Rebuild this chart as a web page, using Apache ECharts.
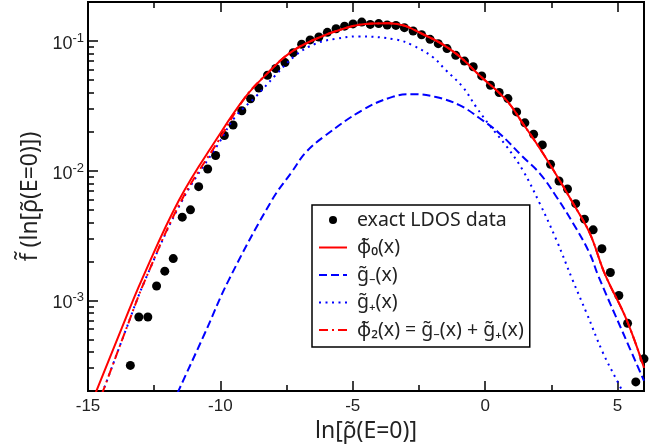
<!DOCTYPE html>
<html>
<head>
<meta charset="utf-8">
<script src="https://cdn.jsdelivr.net/npm/echarts@6/dist/echarts.min.js"></script>
<style>
  html, body { margin: 0; padding: 0; background: #fff; }
  #chart { width: 663px; height: 448px; }
</style>
</head>
<body>
<div id="chart"></div>
<script>
// exact LDOS data (points)
const ldosX = [-13.40, -13.08, -12.74, -12.41, -12.10, -11.78, -11.44, -11.13, -10.82, -10.48,
  -10.18, -9.85, -9.52, -9.19, -8.86, -8.55, -8.22, -7.91, -7.56, -7.25,
  -6.93, -6.61, -6.28, -5.96, -5.63, -5.31, -4.99, -4.66, -4.34, -4.02,
  -3.70, -3.37, -3.05, -2.72, -2.40, -2.08, -1.77, -1.44, -1.11, -0.78,
  -0.45, -0.13, 0.20, 0.53, 0.86, 1.19, 1.50, 1.83, 2.16, 2.47,
  2.79, 3.11, 3.42, 3.75, 4.08, 4.41, 4.73, 5.05, 5.38, 5.69, 6.0]
const ldosY = [3.15e-4, 7.45e-4, 7.45e-4, 1.29e-3, 1.68e-3, 2.10e-3, 4.38e-3, 4.99e-3, 7.53e-3, 0.0103,
  0.0131, 0.0187, 0.0225, 0.0290, 0.0359, 0.0434, 0.0545, 0.0614, 0.0682, 0.0812,
  0.0944, 0.102, 0.1074, 0.1167, 0.1245, 0.1303, 0.1355, 0.140, 0.1344, 0.1363,
  0.133, 0.132, 0.1268, 0.1194, 0.1119, 0.1031, 0.0955, 0.0874, 0.0776, 0.070,
  0.0634, 0.0538, 0.0456, 0.0401, 0.0360, 0.0284, 0.0234, 0.0191, 0.0158, 0.0112,
  8.33e-3, 7.23e-3, 5.57e-3, 4.23e-3, 3.50e-3, 2.50e-3, 1.64e-3, 1.09e-3, 6.65e-4, 2.35e-4, 3.54e-4]

// phi0 (red solid)
const phi0X = [-15, -14.67, -13.74, -12.97, -11.55, -10.13, -9.05, -8.17, -7.41, -6.53,
  -5.27, -4.4, -3.63, -2.11, -1.10, -0.22, 0.80, 1.42, 2.06, 2.69,
  3.32, 3.95, 4.52, 5.34, 6.0]
const phi0Y = [1.4e-4, 2.03e-4, 6.0e-4, 1.44e-3, 6.0e-3, 0.0177, 0.0371, 0.0578, 0.080, 0.101,
  0.126, 0.136, 0.137, 0.107, 0.080, 0.0545, 0.035, 0.0232, 0.0149, 0.00927,
  0.00561, 0.0033, 0.0016, 0.000711, 0.000302]

// g- (blue dashed)
const gMinusX = [-12, -11.57, -10.6, -9.68, -8.05, -7.3, -6.78, -6.09, -4.64, -3.5,
  -2.74, -1.86, -0.97, -0.22, 0.54, 1.42, 2.06, 2.69, 3.32, 3.95,
  4.27, 5.21, 6.0]
const gMinusY = [1.3e-4, 2.03e-4, 5.5e-4, 1.44e-3, 5.95e-3, 0.0098, 0.0138, 0.0183, 0.0293, 0.0371,
  0.0389, 0.037, 0.032, 0.0255, 0.0194, 0.0128, 0.00955, 0.0063, 0.00394, 0.0023,
  0.00155, 0.00056, 0.00024]

// g+ (blue dotted)
const gPlusX = [-15, -14.42, -13.56, -12.84, -11.44, -10.06, -9.44, -8.67, -7.92, -7.16,
  -6.40, -5.64, -4.8, -3.37, -2.74, -1.98, -1.5, -0.85, -0.34, 0.16,
  0.80, 1.42, 2.06, 2.69, 3.30, 3.83, 4.45, 4.96, 5.3]
const gPlusY = [1.0e-4, 2.03e-4, 6.0e-4, 1.44e-3, 5.9e-3, 0.0163, 0.026, 0.0371, 0.0544, 0.0776,
  0.0955, 0.104, 0.1086, 0.1026, 0.0927, 0.0753, 0.060, 0.0443, 0.031, 0.0225,
  0.0155, 0.0101, 0.0056, 0.00293, 0.00144, 0.0008, 0.000394, 0.000245, 0.00018]

// phi2 = g- + g+ (red dash-dot)
const phi2X = [-15, -14.42, -13.56, -12.84, -11.46, -10.06, -9.05, -8.17, -7.41, -6.53,
  -5.27, -4.4, -3.63, -2.11, -1.10, -0.22, 0.80, 1.42, 2.06, 2.69,
  3.32, 3.95, 4.52, 5.34, 6.0]
const phi2Y = [1.0e-4, 2.03e-4, 6.0e-4, 1.44e-3, 5.95e-3, 0.0172, 0.0371, 0.0578, 0.080, 0.101,
  0.126, 0.136, 0.137, 0.107, 0.080, 0.0545, 0.035, 0.0232, 0.0149, 0.00927,
  0.00561, 0.0033, 0.0016, 0.000711, 0.000302]

const xMinorTicks = [-12.5, -7.5, -2.5, 2.5]
const yMinorTicks = [3e-4, 4e-4, 5e-4, 6e-4, 7e-4, 8e-4, 9e-4,
  2e-3, 3e-3, 4e-3, 5e-3, 6e-3, 7e-3, 8e-3, 9e-3,
  2e-2, 3e-2, 4e-2, 5e-2, 6e-2, 7e-2, 8e-2, 9e-2]

const names = ['exact LDOS data', 'φ̃₀(x)', 'g̃₋(x)', 'g̃₊(x)', 'φ̃₂(x) = g̃₋(x) + g̃₊(x)']

const font = 'Liberation Sans, Arial, Helvetica, sans-serif'
const textFont = 'Noto Sans, Liberation Sans, sans-serif'
const zip = (xs, ys) => xs.map((x, i) => [x, ys[i]])

const chart = echarts.init(document.getElementById('chart'), null, { renderer: 'canvas' })

const tickLine = { color: '#000', width: 1.5 }
const xBase = { type: 'value', min: -15, max: 6, gridIndex: 0, splitLine: { show: false } }
const yBase = { type: 'log', logBase: 10, min: 2e-4, max: 0.2, gridIndex: 0, splitLine: { show: false } }
const noIcon = { color: 'rgba(0,0,0,0)', borderColor: 'rgba(0,0,0,0)', borderWidth: 0 }

const option = {
  animation: false,
  textStyle: { fontFamily: font },
  grid: { left: 88, right: 19, top: 2, bottom: 57, show: true, borderColor: '#000', borderWidth: 2 },
  legend: {
    orient: 'vertical',
    left: 312,
    top: 205,
    itemWidth: 28,
    itemHeight: 8,
    itemGap: 7.5,
    padding: [5, 6, 7, 6],
    borderColor: '#000',
    borderWidth: 1.5,
    backgroundColor: '#fff',
    textStyle: { fontSize: 19.5, color: '#222', fontFamily: textFont, lineHeight: 20, padding: [0, 0, 0, 5] },
    data: [
      { name: names[0] },
      { name: names[1], itemStyle: noIcon },
      { name: names[2], itemStyle: noIcon },
      { name: names[3], itemStyle: noIcon },
      { name: names[4], itemStyle: noIcon }
    ]
  },
  xAxis: [
    Object.assign({}, xBase, {
      position: 'bottom',
      interval: 5,
      name: 'ln[ρ̃(E=0)]',
      nameLocation: 'middle',
      nameGap: 27,
      nameTextStyle: { fontSize: 23, color: '#222', fontFamily: textFont },
      axisLine: { onZero: false, lineStyle: { color: '#000', width: 2 } },
      axisTick: { inside: true, length: 10, lineStyle: tickLine },
      axisLabel: { showMaxLabel: false, fontSize: 17, color: '#222', margin: 7, fontFamily: font }
    }),
    Object.assign({}, xBase, {
      position: 'bottom',
      axisLine: { show: false, onZero: false },
      axisTick: { inside: true, length: 6, customValues: xMinorTicks, lineStyle: tickLine },
      axisLabel: { show: false }
    }),
    Object.assign({}, xBase, {
      position: 'top',
      interval: 5,
      axisLine: { onZero: false, lineStyle: { color: '#000', width: 2 } },
      axisTick: { inside: true, length: 10, lineStyle: tickLine },
      axisLabel: { show: false }
    }),
    Object.assign({}, xBase, {
      position: 'top',
      axisLine: { show: false, onZero: false },
      axisTick: { inside: true, length: 6, customValues: xMinorTicks, lineStyle: tickLine },
      axisLabel: { show: false }
    })
  ],
  yAxis: [
    Object.assign({}, yBase, {
      position: 'left',
      name: 'f̃ (ln[ρ̃(E=0)])',
      nameLocation: 'middle',
      nameGap: 38,
      nameTextStyle: { fontSize: 23, color: '#222', fontFamily: textFont },
      axisLine: { onZero: false, lineStyle: { color: '#000', width: 2 } },
      axisTick: { inside: true, length: 10, lineStyle: tickLine },
      axisLabel: {
        showMinLabel: false,
        showMaxLabel: false,
        margin: 4,
        formatter: function (v) {
          return '{b|10}{s|' + Math.round(Math.log10(v)) + '}'
        },
        rich: {
          b: { fontSize: 18, color: '#222', fontFamily: font, lineHeight: 18, padding: [6, 0, 0, 0] },
          s: { fontSize: 13, color: '#222', fontFamily: font, lineHeight: 13, verticalAlign: 'top' }
        }
      }
    }),
    Object.assign({}, yBase, {
      position: 'left',
      axisLine: { show: false, onZero: false },
      axisTick: { inside: true, length: 6, customValues: yMinorTicks, lineStyle: tickLine },
      axisLabel: { show: false }
    })
  ],
  series: [
    {
      name: names[0],
      type: 'scatter',
      symbol: 'circle',
      symbolSize: 9,
      clip: false,
      itemStyle: { color: '#000', opacity: 1 },
      data: zip(ldosX, ldosY)
    },
    {
      name: names[1],
      type: 'line',
      symbol: 'none',
      smooth: 0.4,
      itemStyle: { color: '#ff0000' },
      lineStyle: { color: '#ff0000', width: 2 },
      data: zip(phi0X, phi0Y)
    },
    {
      name: names[2],
      type: 'line',
      symbol: 'none',
      smooth: 0.4,
      itemStyle: { color: '#0000ff' },
      lineStyle: { color: '#0000ff', width: 2, type: [8, 4] },
      data: zip(gMinusX, gMinusY)
    },
    {
      name: names[3],
      type: 'line',
      symbol: 'none',
      smooth: 0.4,
      itemStyle: { color: '#0000ff' },
      lineStyle: { color: '#0000ff', width: 2, type: [2, 4.5] },
      data: zip(gPlusX, gPlusY)
    },
    {
      name: names[4],
      type: 'line',
      symbol: 'none',
      smooth: 0.4,
      itemStyle: { color: '#ff0000' },
      lineStyle: { color: '#ff0000', width: 2, type: [9, 4, 2, 4] },
      data: zip(phi2X, phi2Y)
    }
  ]
}

chart.setOption(option)
</script>
</body>
</html>
